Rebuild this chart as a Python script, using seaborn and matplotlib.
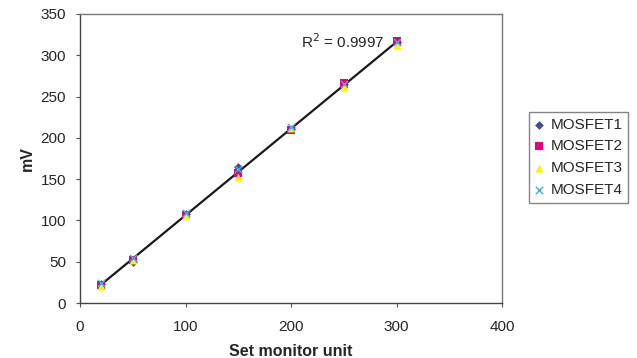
import numpy as np
import pandas as pd
import matplotlib
matplotlib.use("Agg")
import matplotlib.pyplot as plt
import seaborn as sns

# Данные
monitor_units = [20, 50, 100, 150, 200, 250, 300]
mosfet1 = [23, 50, 108, 165, 211, 265, 316]
mosfet2 = [22, 52, 106, 158, 209, 266, 317]
mosfet3 = [21, 52, 107, 152, 212, 261, 312]
mosfet4 = [24, 54, 109, 162, 213, 265, 316]
series_names = ["MOSFET1", "MOSFET2", "MOSFET3", "MOSFET4"]
r2_label = "R$^2$ = 0.9997"

df = pd.DataFrame({
    "mu": monitor_units * 4,
    "mv": mosfet1 + mosfet2 + mosfet3 + mosfet4,
    "det": sum([[n] * len(monitor_units) for n in series_names], []),
})

sns.set_style("white")
plt.rcParams["font.family"] = ["Liberation Sans", "DejaVu Sans"]

fig = plt.figure(figsize=(6.37, 3.58), dpi=100)
ax = fig.add_axes([0.1256, 0.1536, 0.6625, 0.8073])

colors = {"MOSFET1": "#4a4a8c", "MOSFET2": "#e6007e",
          "MOSFET3": "#fff200", "MOSFET4": "#33b5e5"}
markers = {"MOSFET1": "D", "MOSFET2": "s", "MOSFET3": "^", "MOSFET4": "x"}
sizes = {"MOSFET1": 20, "MOSFET2": 28, "MOSFET3": 32, "MOSFET4": 28}

# линия тренда по всем точкам
sns.regplot(data=df, x="mu", y="mv", scatter=False, ci=None, truncate=True,
            color="#1a1a1a", line_kws={"linewidth": 1.6}, ax=ax)

for name in series_names:
    sub = df[df["det"] == name]
    if markers[name] == "x":
        sns.scatterplot(data=sub, x="mu", y="mv", color=colors[name],
                        marker="x", s=sizes[name], linewidth=1.0,
                        label=name, ax=ax, zorder=3)
    else:
        sns.scatterplot(data=sub, x="mu", y="mv", color=colors[name],
                        marker=markers[name], s=sizes[name], linewidth=0,
                        label=name, ax=ax, zorder=3)

ax.text(289, 316, r2_label, ha="right", va="center", fontsize=11)

ax.set_xlim(0, 400)
ax.set_ylim(0, 350)
ax.set_xticks(range(0, 401, 100))
ax.set_yticks(range(0, 351, 50))
ax.tick_params(axis="both", direction="out", length=3, width=0.8,
               color="#555555", labelsize=11, bottom=True, left=True)
ax.tick_params(axis="x", pad=9.5)
ax.tick_params(axis="y", pad=7)
ax.set_xlabel("Set monitor unit", fontsize=11.5, fontweight="bold", labelpad=7)
ax.set_ylabel("mV", fontsize=11.5, fontweight="bold", labelpad=4)

for side in ["left", "bottom"]:
    ax.spines[side].set_color("#444444")
    ax.spines[side].set_linewidth(1.0)
for side in ["top", "right"]:
    ax.spines[side].set_color("#777777")
    ax.spines[side].set_linewidth(1.0)

handles, labels = ax.get_legend_handles_labels()
ax.legend(handles, labels, loc="upper left", bbox_to_anchor=(0.8305, 0.687),
          bbox_transform=fig.transFigure, frameon=True, fancybox=False,
          edgecolor="#666666", fontsize=11, handlelength=0.6,
          handletextpad=0.45, labelspacing=0.52, borderpad=0.36,
          borderaxespad=0, markerscale=1.0)
ax.get_legend().get_frame().set_linewidth(1.0)

fig.savefig("out.png", dpi=100)
